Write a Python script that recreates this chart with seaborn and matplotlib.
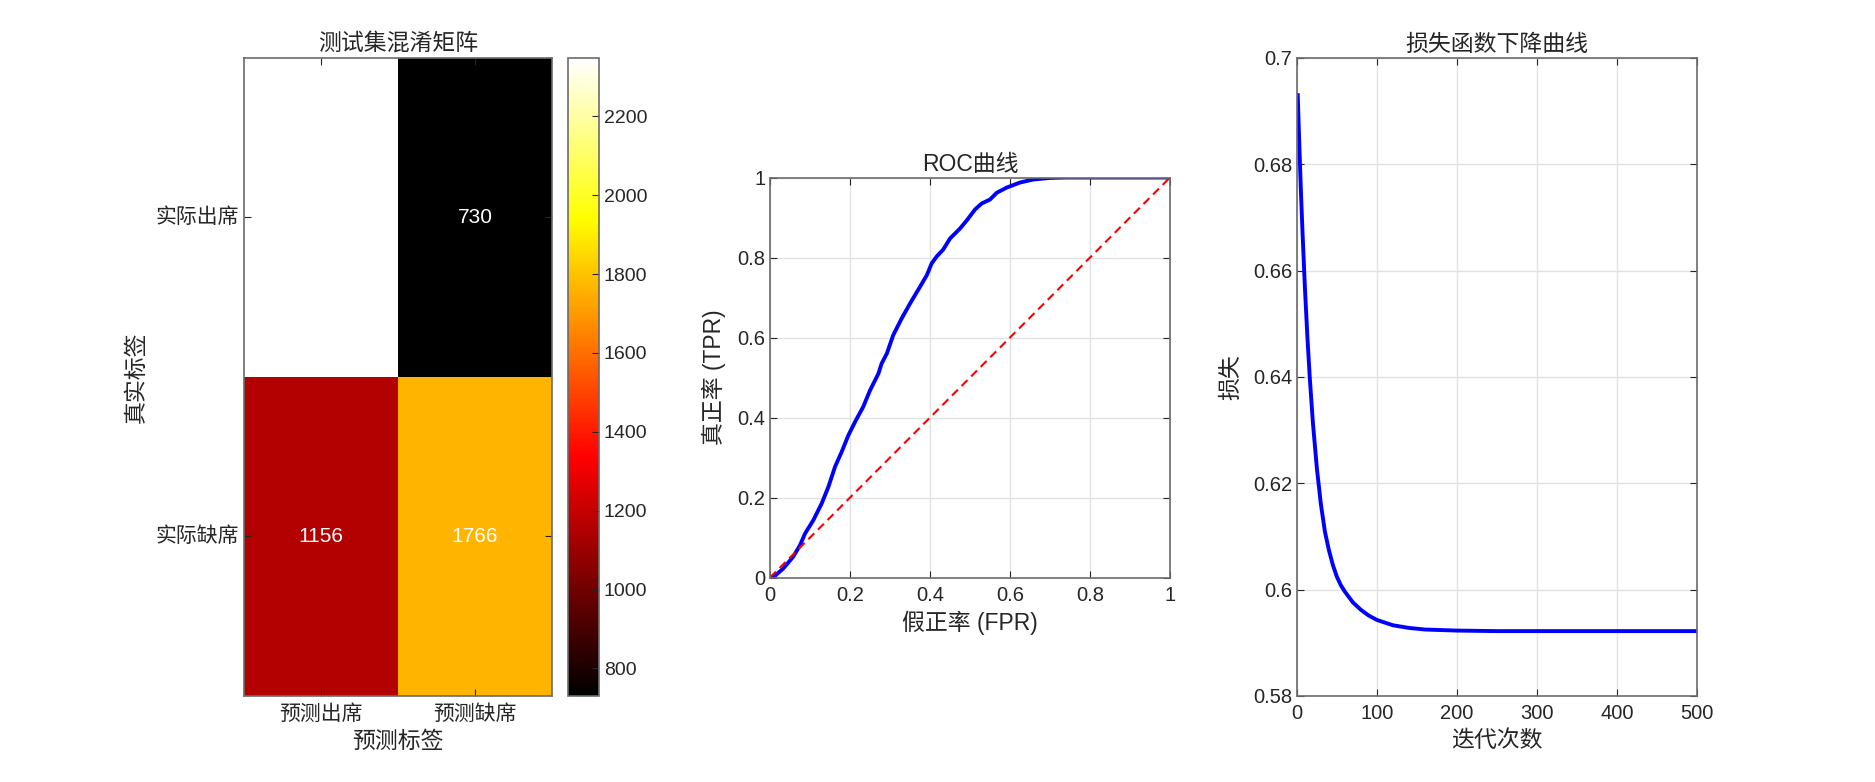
import pandas as pd
import seaborn as sns
import matplotlib.pyplot as plt
from matplotlib.colors import LinearSegmentedColormap
from matplotlib.ticker import FuncFormatter

# confusion matrix, rows = actual, cols = predicted
true_labels = ['实际出席', '实际缺席']
pred_labels = ['预测出席', '预测缺席']
cm_values = [[2348, 730],
             [1156, 1766]]
cbar_ticks = [800, 1000, 1200, 1400, 1600, 1800, 2000, 2200]

# ROC curve
roc_fpr = [0.0, 0.012, 0.033, 0.058, 0.075, 0.0875, 0.108, 0.129, 0.146, 0.1625,
           0.179, 0.196, 0.2125, 0.233, 0.25, 0.271, 0.279, 0.292, 0.308, 0.329,
           0.35, 0.375, 0.392, 0.404, 0.417, 0.433, 0.45, 0.475, 0.492, 0.5125,
           0.529, 0.55, 0.567, 0.592, 0.625, 0.658, 0.70, 0.742, 1.0]
roc_tpr = [0.0, 0.004, 0.0225, 0.052, 0.081, 0.11, 0.143, 0.185, 0.227, 0.277,
           0.314, 0.356, 0.389, 0.427, 0.468, 0.51, 0.535, 0.56, 0.606, 0.6475,
           0.685, 0.727, 0.756, 0.785, 0.803, 0.82, 0.8475, 0.8725, 0.893, 0.92,
           0.935, 0.945, 0.962, 0.975, 0.9875, 0.995, 0.999, 1.0, 1.0]
chance_x = [0, 1]
chance_y = [0, 1]

# loss history
loss_iter = [1, 3, 5, 7, 10, 13, 16, 20, 25, 30, 35, 40, 45, 50, 55, 60, 70, 80,
             90, 100, 120, 140, 160, 180, 200, 250, 300, 400, 500]
loss_vals = [0.6930, 0.6835, 0.6748, 0.6671, 0.6567, 0.6477, 0.6400, 0.6313,
             0.6227, 0.6160, 0.6109, 0.6074, 0.6046, 0.6024, 0.6008, 0.5996,
             0.5976, 0.5962, 0.5951, 0.5943, 0.5933, 0.5928, 0.5925, 0.5924,
             0.5923, 0.5922, 0.5922, 0.5922, 0.5922]

plt.rcParams['font.family'] = ['Liberation Sans', 'Noto Sans CJK SC']
plt.rcParams['text.color'] = '#262626'
plt.rcParams['axes.labelcolor'] = '#262626'
plt.rcParams['xtick.color'] = '#262626'
plt.rcParams['ytick.color'] = '#262626'

TXT = '#262626'
EDGE = '#6b6b6b'
LBL = 16.5

# MATLAB-like "hot"
hot = LinearSegmentedColormap.from_list(
    'mhot', [(0, 'black'), (3 / 8, 'red'), (6 / 8, 'yellow'), (1, 'white')])

fig = plt.figure(figsize=(18.75, 7.82), dpi=100)
ax1 = fig.add_axes([0.1301, 0.110, 0.1643, 0.8159])
cax = fig.add_axes([0.3029, 0.110, 0.0165, 0.8159])
ax2 = fig.add_axes([0.4107, 0.2615, 0.2133, 0.5115])
ax3 = fig.add_axes([0.6917, 0.110, 0.2133, 0.8159])

cm_df = pd.DataFrame(cm_values, index=true_labels, columns=pred_labels)
sns.heatmap(cm_df, ax=ax1, cmap=hot, cbar_ax=cax, annot=True, fmt='d',
            annot_kws={'color': 'white', 'fontsize': 15},
            cbar_kws={'ticks': cbar_ticks})
ax1.set_title('测试集混淆矩阵', fontsize=LBL, pad=6)
ax1.set_xlabel('预测标签', fontsize=LBL, labelpad=4)
ax1.set_ylabel('真实标签', fontsize=LBL, labelpad=6)
ax1.tick_params(direction='in', top=True, right=True, length=5, labelsize=15,
                color=TXT)
ax1.tick_params(axis='x', pad=6)
ax1.tick_params(axis='y', labelrotation=0)
for s in ax1.spines.values():
    s.set_visible(True)
    s.set_color(EDGE)
    s.set_linewidth(1.2)

cax.tick_params(direction='in', right=True, left=False, length=5, labelsize=14,
                color=TXT)
cbar = ax1.collections[0].colorbar
cbar.outline.set_edgecolor(EDGE)
cbar.outline.set_linewidth(1.2)

fmt = FuncFormatter(lambda v, _: f'{v:g}')

# ROC
sns.lineplot(x=roc_fpr, y=roc_tpr, ax=ax2, color='blue', linewidth=2.8,
             estimator=None)
ax2.plot(chance_x, chance_y, color='red', linestyle='--', linewidth=1.5,
         dashes=(4, 2.5))
ax2.set_xlim(0, 1)
ax2.set_ylim(0, 1)
ax2.set_xticks([0, 0.2, 0.4, 0.6, 0.8, 1])
ax2.set_yticks([0, 0.2, 0.4, 0.6, 0.8, 1])
ax2.set_title('ROC曲线', fontsize=LBL, pad=5)
ax2.set_xlabel('假正率 (FPR)', fontsize=LBL, labelpad=4)
ax2.set_ylabel('真正率 (TPR)', fontsize=LBL, labelpad=8)

# loss
sns.lineplot(x=loss_iter, y=loss_vals, ax=ax3, color='blue', linewidth=2.8,
             estimator=None)
ax3.set_xlim(0, 500)
ax3.set_ylim(0.58, 0.7)
ax3.set_xticks([0, 100, 200, 300, 400, 500])
ax3.set_yticks([0.58, 0.6, 0.62, 0.64, 0.66, 0.68, 0.7])
ax3.set_title('损失函数下降曲线', fontsize=LBL, pad=5)
ax3.set_xlabel('迭代次数', fontsize=LBL, labelpad=4)
ax3.set_ylabel('损失', fontsize=LBL, labelpad=8)

for ax in (ax2, ax3):
    ax.xaxis.set_major_formatter(fmt)
    ax.yaxis.set_major_formatter(fmt)
    ax.grid(True, color='#e2e2e2', linewidth=1.0)
    ax.set_axisbelow(True)
    ax.tick_params(direction='in', top=True, right=True, length=5,
                   labelsize=14.5, color=TXT)
    ax.tick_params(axis='x', pad=6)
    for s in ax.spines.values():
        s.set_color(EDGE)
        s.set_linewidth(1.2)

fig.savefig('out.png', dpi=100, facecolor='white')
